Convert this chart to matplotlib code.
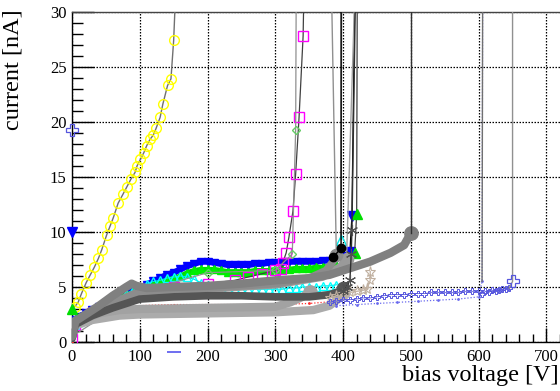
import matplotlib
matplotlib.use("Agg")
import matplotlib.pyplot as plt
from matplotlib.ticker import MultipleLocator

# ---------------- data (bias voltage [V], current [nA]) ----------------
yellow_V = [4, 9, 14, 21, 27, 33, 39, 44, 51, 56, 61, 68, 75, 81, 87, 93, 96, 101, 106, 110,
            115, 120, 124, 130, 134, 141, 146, 150, 155]
yellow_I = [3.2, 3.6, 4.4, 5.4, 6.1, 6.8, 7.6, 8.4, 9.7, 10.5, 11.3, 12.6, 13.4, 14.1, 14.8, 15.4,
            16.0, 16.6, 17.2, 17.8, 18.4, 18.8, 19.4, 20.4, 21.6, 23.3, 23.9, 27.4, 35]

band_V = [5, 10, 20, 30, 40, 50, 60, 70, 80, 90, 100, 110, 120, 130, 140, 150, 160, 170, 180, 190,
          200, 210, 220, 230, 240, 250, 260, 270, 280, 290, 300, 310, 320, 330, 340, 350, 360, 370,
          380, 390]
blue_I = [2.0, 2.3, 2.6, 2.9, 3.2, 3.5, 3.8, 4.1, 4.4, 4.7, 4.9, 5.2, 5.5, 5.8, 6.1, 6.3, 6.6, 6.9,
          7.1, 7.3, 7.3, 7.2, 7.1, 7.0, 7.0, 7.0, 7.0, 7.1, 7.1, 7.2, 7.2, 7.2, 7.3, 7.3, 7.3, 7.3,
          7.3, 7.4, 7.4, 7.5]
blue_tail_V = [405, 410, 413, 418]
blue_tail_I = [7.7, 8.2, 11.4, 35]

green_I = [2.0, 2.3, 2.6, 2.9, 3.2, 3.4, 3.7, 4.0, 4.3, 4.5, 4.8, 5.0, 5.2, 5.4, 5.6, 5.8, 6.0, 6.3,
           6.5, 6.6, 6.6, 6.6, 6.5, 6.4, 6.4, 6.4, 6.4, 6.5, 6.5, 6.5, 6.6, 6.6, 6.6, 6.7, 6.7, 6.7,
           6.8, 6.8, 6.9, 7.0]
green_tail_V = [405, 417, 420, 421]
green_tail_I = [7.5, 8.1, 11.6, 35]

cyan_I = [1.5, 1.8, 2.2, 2.6, 3.0, 3.4, 3.7, 4.1, 4.4, 4.7, 5.0, 5.3, 5.5, 5.6, 5.8, 5.9, 6.0, 5.9,
          5.7, 5.4, 5.2, 5.0, 4.9, 4.8, 4.8, 4.8, 4.8, 4.8, 4.8, 4.8, 4.8, 4.8, 4.9, 4.9, 5.0, 5.0,
          5.0, 5.1, 5.1, 5.2]
cyan_tail_V = [397, 398]
cyan_tail_I = [9.3, 35]

magenta_V = [0, 5, 30, 60, 100, 150, 200, 240, 260, 280, 300, 309, 311, 316, 320, 326, 330, 335,
             341, 343]
magenta_I = [0.3, 1.5, 2.6, 3.6, 4.8, 5.0, 5.3, 5.6, 5.9, 6.2, 6.5, 6.6, 7.2, 8.1, 9.5, 11.9, 15.3,
             20.4, 27.8, 35]

diamond_V = [0, 100, 200, 300, 325, 330, 331]
diamond_I = [0.5, 4.5, 6.3, 6.5, 8.0, 19.3, 35]

red_V = [0, 5, 50, 100, 150, 200, 250, 300, 350, 390]
red_I = [0.0, 1.5, 2.8, 3.3, 3.4, 3.4, 3.4, 3.4, 3.5, 3.7]

gray1_V = [0, 5, 20, 40, 60, 80, 88, 95, 110, 150, 200, 250, 300, 350, 380, 400, 440, 470, 490, 500]
gray1_I = [0.5, 1.9, 2.5, 3.3, 4.2, 5.0, 5.3, 5.1, 4.9, 5.0, 5.1, 5.3, 5.6, 5.8, 6.1, 6.5, 7.3, 8.1,
           8.8, 9.9]
gray1_tail_V = [500, 500]
gray1_tail_I = [9.9, 35]

gray2_V = [0, 5, 50, 100, 150, 200, 250, 300, 350, 375, 385, 390]
gray2_I = [1.0, 2.0, 3.3, 4.6, 4.8, 4.9, 5.1, 5.3, 5.8, 6.5, 7.3, 7.9]
gray2_tail_V = [390, 382]
gray2_tail_I = [7.9, 35]

gray3_V = [0, 5, 100, 200, 300, 370, 395, 405]
gray3_I = [0.8, 1.9, 4.5, 4.8, 5.2, 5.9, 6.8, 7.5]
gray3_tail_V = [405, 419]
gray3_tail_I = [7.5, 35]

dark_V = [0, 5, 30, 60, 100, 150, 200, 250, 300, 350, 380, 395, 400]
dark_I = [0.3, 1.6, 2.4, 3.1, 3.9, 4.1, 4.2, 4.2, 4.1, 4.1, 4.3, 4.6, 4.9]

light1_V = [0, 5, 30, 70, 100, 200, 300, 356, 380, 395, 400]
light1_I = [0.5, 1.5, 2.0, 2.4, 2.5, 2.6, 2.7, 2.9, 3.3, 4.0, 4.5]
light2_V = [0, 5, 40, 70, 100, 200, 300, 322, 340, 351]
light2_I = [0.8, 1.8, 2.6, 2.9, 3.0, 3.1, 3.2, 3.6, 4.1, 4.5]

black_V = [385, 397, 397]
black_I = [7.7, 8.5, 35]

tan_V = [380, 390, 400, 410, 420, 430, 435, 440, 440]
tan_I = [4.0, 4.2, 4.4, 4.5, 4.6, 4.7, 4.8, 5.6, 6.4]

aster_V = [400, 405, 410, 412, 413, 419]
aster_I = [4.6, 5.0, 5.6, 8.0, 10.2, 35]

cross_V = [380, 390, 400, 410, 420, 430, 440, 450, 460, 470, 480, 490, 500, 510, 520, 530, 540,
           550, 560, 570, 580, 590, 600, 605, 610, 615, 620, 625, 630, 635, 640, 645, 650, 650]
cross_I = [3.6, 3.7, 3.8, 3.85, 3.9, 4.0, 4.0, 4.1, 4.2, 4.3, 4.3, 4.3, 4.4, 4.4, 4.4, 4.5, 4.5,
           4.5, 4.5, 4.5, 4.6, 4.6, 4.6, 4.4, 4.6, 4.5, 4.7, 4.6, 4.7, 4.8, 4.8, 4.9, 5.5, 35]

dotted_V = [390, 420, 450, 480, 510, 540, 570, 600, 605, 606]
dotted_I = [3.3, 3.4, 3.5, 3.6, 3.7, 3.8, 3.9, 4.1, 5.5, 35]

stray_V = [0, 0, 0]
stray_I = [19.3, 10.0, 3.0]
dash_V = [150]
dash_I = [-0.9]

x_ticks = [0, 100, 200, 300, 400, 500, 600, 700]
y_ticks = [0, 5, 10, 15, 20, 25, 30]

# ---------------- figure ----------------
plt.rcParams['font.family'] = ['Liberation Serif', 'DejaVu Serif']
fig = plt.figure(figsize=(5.6, 3.91), dpi=100)
ax = fig.add_axes([72 / 560, 49 / 391, 488 / 560, 0.8447])
ax.set_xlim(0, 720)
ax.set_ylim(0, 30)

ax.grid(True, which='major', color='black', linestyle=(0, (1.2, 1.2)), linewidth=0.9)
ax.set_axisbelow(True)

# coloured bands (thick underlay + dense markers)
ax.plot(band_V, blue_I, color='#0000ff', lw=4.5, solid_capstyle='round', zorder=2.9)
ax.plot(band_V, blue_I, color='#0000ff', lw=0.8, marker='v', ms=6, mec='#0000ff', mfc='#0000ff', zorder=3)
ax.plot(blue_tail_V, blue_tail_I, color='black', lw=0.9, marker='v', ms=6.5, mec='#0000ff', mfc='#0000ff', zorder=3)
ax.plot(band_V, green_I, color='#00dd00', lw=3.5, solid_capstyle='round', zorder=3.05)
ax.plot(band_V, green_I, color='#00dd00', lw=0.8, marker='^', ms=6, mec='#00ee00', mfc='#00ee00', zorder=3.1)
ax.plot(green_tail_V, green_tail_I, color='#404040', lw=0.9, marker='^', ms=6.5, mec='#00dd00', mfc='#00dd00', zorder=3.1)
ax.plot(band_V, cyan_I, color='#00e0e0', lw=0.8, marker='^', ms=6, mec='#00ffff', mfc='none', mew=1.0, zorder=3.2)
ax.plot(cyan_tail_V, cyan_tail_I, color='#707070', lw=0.9, marker='^', ms=7, mec='#00e8e8', mfc='none', mew=1.0, zorder=3.2)
ax.plot(magenta_V, magenta_I, color='#404040', lw=0.9, marker='s', ms=7, mec='#ff00ff', mfc='none', mew=1.0, zorder=3.3)
ax.plot(diamond_V, diamond_I, color='#909090', lw=0.9, marker='D', ms=4, mec='#66cc66', mfc='none', mew=1.0, zorder=3.3)
ax.plot(red_V, red_I, color='#ff3030', lw=0.9, linestyle=(0, (1, 1.5)), marker='.', ms=2, zorder=3.4)

# grey thick curves
def thick(v, i, c, lw, z):
    ax.plot(v, i, color=c, lw=lw, solid_capstyle='round', solid_joinstyle='round', zorder=z)
    ax.plot(v[-1:], i[-1:], 'o', color=c, ms=lw * 1.6, zorder=z)

thick(gray3_V, gray3_I, '#9a9a9a', 5.5, 4.0)
ax.plot(gray3_tail_V, gray3_tail_I, color='#a0a0a0', lw=1.0, zorder=3.9)
thick(gray2_V, gray2_I, '#8c8c8c', 5.5, 4.1)
ax.plot(gray2_tail_V, gray2_tail_I, color='#909090', lw=1.0, zorder=3.9)
thick(light1_V, light1_I, '#ababab', 6.0, 4.2)
thick(light2_V, light2_I, '#a2a2a2', 6.0, 4.3)
thick(dark_V, dark_I, '#555555', 5.5, 4.4)
thick(gray1_V, gray1_I, '#808080', 6.0, 4.5)
ax.plot(gray1_tail_V, gray1_tail_I, color='#303030', lw=1.0, zorder=4.5)
ax.plot(black_V, black_I, color='black', lw=1.0, marker='o', ms=6, mfc='black', zorder=4.6)

# high-voltage series
ax.plot(tan_V, tan_I, color='#c8b8a8', lw=1.0, marker='*', ms=8, mec='#c0b0a0', mfc='none', mew=0.8, zorder=4.7)
ax.plot(aster_V, aster_I, color='#303030', lw=1.0, marker=(6, 2, 0), ms=8, mec='#505050', mew=0.8, zorder=4.8)
ax.plot(dotted_V, dotted_I, color='#6a6aee', lw=0.9, linestyle=(0, (1, 1.5)), marker='.', ms=2, zorder=4.8)
ax.plot(dotted_V[-2:], dotted_I[-2:], color='#707070', lw=1.0, zorder=4.8)
ax.plot(cross_V[:-2], cross_I[:-2], color='#6666dd', lw=0.6, marker='P', ms=4.5, mec='#5555dd', mfc='none', mew=0.7, zorder=4.9)
ax.plot(cross_V[-3:], cross_I[-3:], color='#909090', lw=1.0, zorder=4.9)
ax.plot(cross_V[-2:-1], cross_I[-2:-1], marker='P', ms=8, mec='#5555dd', mfc='none', mew=0.9, ls='none', zorder=5)

# yellow
ax.plot(yellow_V, yellow_I, color='#707070', lw=1.0, marker='o', ms=7, mec='#ffff00', mfc='none', mew=1.0, zorder=5)

# stray first points
ax.plot(stray_V[0:1], stray_I[0:1], marker='P', ms=8, mec='#5555dd', mfc='none', mew=0.9, ls='none', clip_on=False, zorder=6)
ax.plot(stray_V[1:2], stray_I[1:2], marker='v', ms=7, color='#0000ff', ls='none', clip_on=False, zorder=6)
ax.plot(stray_V[2:3], stray_I[2:3], marker='^', ms=7, color='#00dd00', ls='none', clip_on=False, zorder=6)
ax.plot(dash_V, dash_I, marker='_', ms=10, mew=1.2, color='#5555ee', ls='none', clip_on=False, zorder=6)

# axes styling (ROOT-like)
ax.spines['right'].set_visible(False)
for s in ['left', 'bottom', 'top']:
    ax.spines[s].set_color('black')
    ax.spines[s].set_linewidth(1.0)
ax.spines['top'].set_color('#444444')
ax.set_xticks(x_ticks)
ax.set_yticks(y_ticks)
ax.xaxis.set_minor_locator(MultipleLocator(20))
ax.yaxis.set_minor_locator(MultipleLocator(1))
ax.tick_params(axis='both', which='both', direction='in', top=False, right=False, colors='black')
ax.tick_params(axis='x', which='major', length=10, width=1.0, pad=5, labelsize=12)
ax.tick_params(axis='x', which='minor', length=6, width=1.0)
ax.tick_params(axis='y', which='major', length=16, width=1.0, pad=4, labelsize=12)
ax.tick_params(axis='y', which='minor', length=8, width=1.0)

fig.text(0.998, 0.012, 'bias voltage [V]', ha='right', va='bottom', fontsize=17.5)
fig.text(0.005, 0.975, 'current [nA]', ha='left', va='top', rotation=90, fontsize=17.5)

fig.savefig('out.png', dpi=100)
